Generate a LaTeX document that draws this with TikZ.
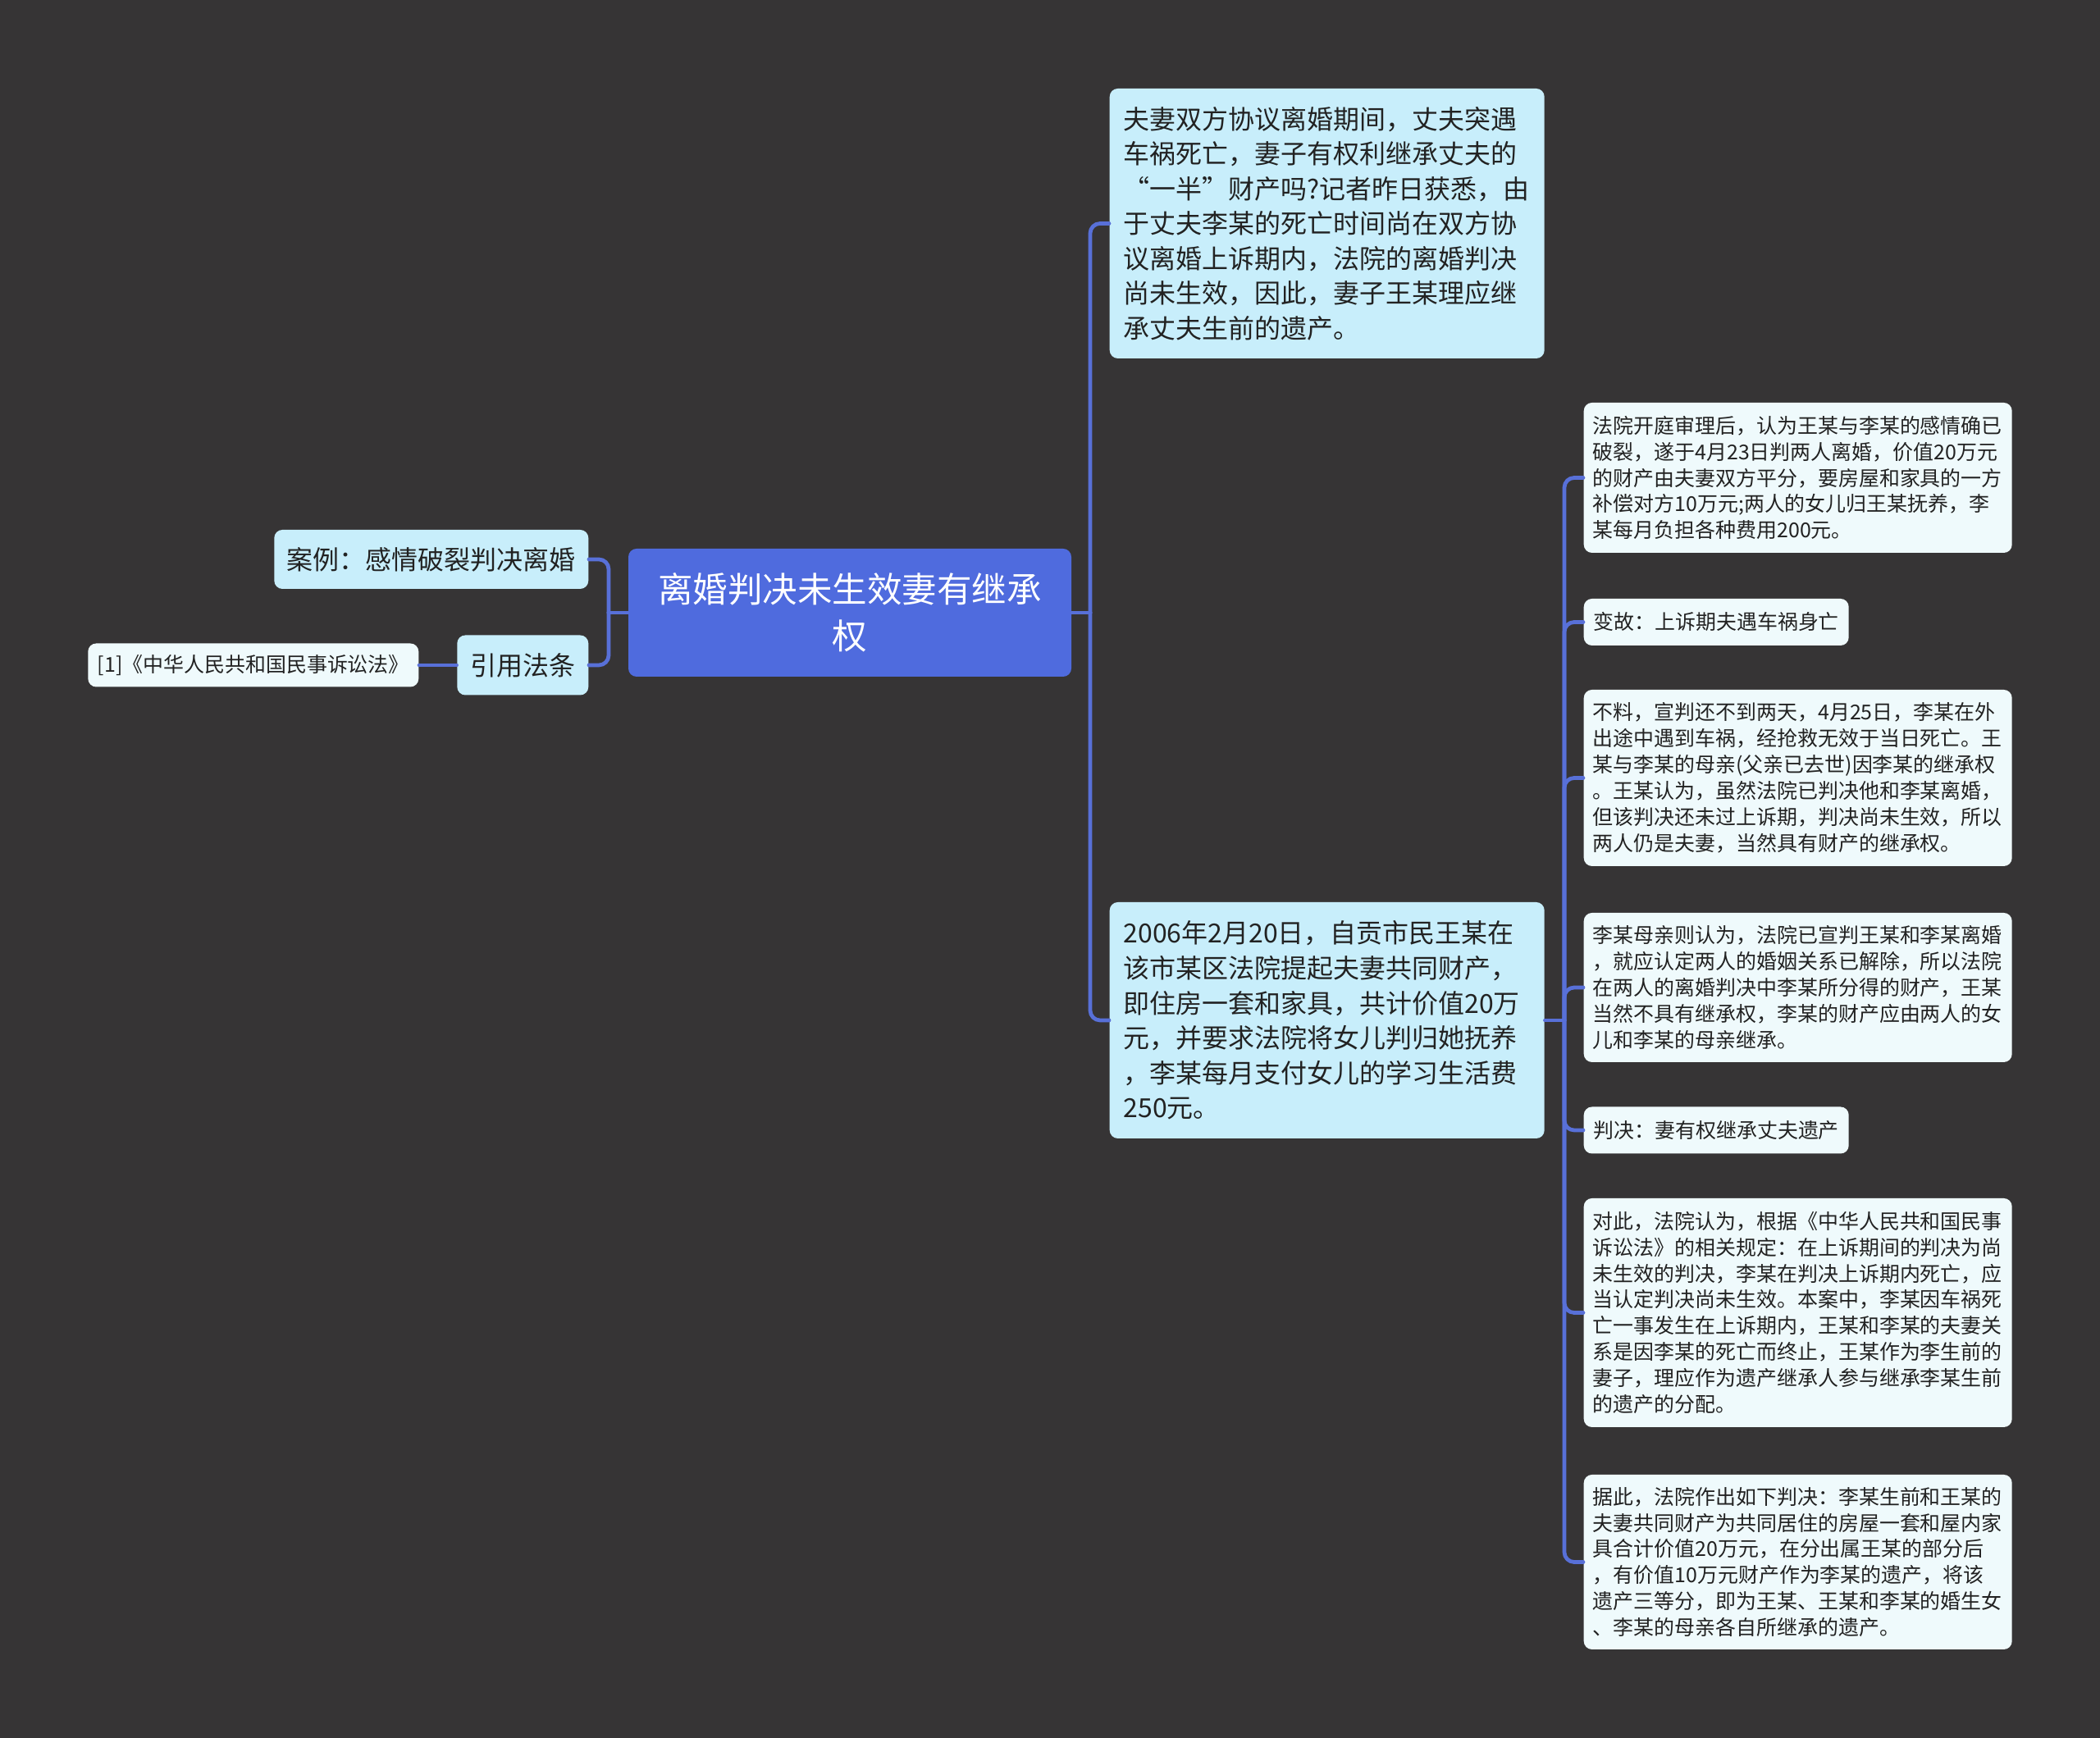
\documentclass[tikz,border=0pt]{standalone}
\usepackage{fontspec}
\setmainfont{Noto Sans CJK SC}
\definecolor{mapbg}{HTML}{363435}
\definecolor{mapblue}{HTML}{4F6BDE}
\definecolor{maplink}{HTML}{5870D8}
\definecolor{mapcyan}{HTML}{C8EEFB}
\definecolor{mappale}{HTML}{EFFAFC}
\definecolor{mapink}{HTML}{222222}

\begin{document}
\begin{tikzpicture}[line cap=round,line join=round,
  topic/.style={fill=mapblue,text=white,rounded corners=.1cm,align=center,
    minimum width=5.4cm,minimum height=1.56cm,inner sep=0pt,
    font=\fontsize{12.1}{16.2}\selectfont},
  branch/.style={fill=mapcyan,text=mapink,rounded corners=.1cm,inner sep=0pt,
    font=\fontsize{9.1}{12.1}\selectfont},
  note/.style={branch,align=left,text width=4.96cm,inner xsep=.17cm,inner ysep=0pt},
  leafbox/.style={fill=mappale,text=mapink,rounded corners=.1cm,inner sep=0pt,
    font=\fontsize{7.1}{9.1}\selectfont},
  detail/.style={leafbox,align=left,text width=5.0cm,inner xsep=.11cm,anchor=west},
  tag/.style={leafbox,minimum width=3.23cm,minimum height=.57cm,anchor=west},
  link/.style={draw=maplink,line width=1.35pt,rounded corners=.12cm}]
\path[use as bounding box] (0,0) rectangle (25.6,21.19);
\fill[mapbg] (0,0) rectangle (25.6,21.19);

% 中心主题与左侧分支
\node[topic] (root) at (10.36,13.72) {离婚判决未生效妻有继承\\权};
\node[branch,anchor=east,minimum width=3.83cm,minimum height=.72cm] (case) at (7.18,14.37) {案例：感情破裂判决离婚};
\node[branch,anchor=east,minimum width=1.60cm,minimum height=.73cm] (law) at (7.18,13.08) {引用法条};
\node[leafbox,anchor=east,minimum width=4.03cm,minimum height=.53cm] (lawref) at (5.11,13.08) {[1]《中华人民共和国民事诉讼法》};

% 右侧两个分支
\node[note,anchor=west,minimum height=3.29cm] (summary) at (13.52,18.465) {夫妻双方协议离婚期间，丈夫突遇\\车祸死亡，妻子有权利继承丈夫的\\“一半”财产吗?记者昨日获悉，由\\于丈夫李某的死亡时间尚在双方协\\议离婚上诉期内，法院的离婚判决\\尚未生效，因此，妻子王某理应继\\承丈夫生前的遗产。};
\node[note,anchor=west,minimum height=2.88cm] (story) at (13.52,8.75) {2006年2月20日，自贡市民王某在\\该市某区法院提起夫妻共同财产，\\即住房一套和家具，共计价值20万\\元，并要求法院将女儿判归她抚养\\，李某每月支付女儿的学习生活费\\250元。};

% 案情细节
\node[detail,minimum height=1.83cm] (trial) at (19.30,15.365) {法院开庭审理后，认为王某与李某的感情确已\\破裂，遂于4月23日判两人离婚，价值20万元\\的财产由夫妻双方平分，要房屋和家具的一方\\补偿对方10万元;两人的女儿归王某抚养，李\\某每月负担各种费用200元。};
\node[tag] (accident) at (19.30,13.605) {变故：上诉期夫遇车祸身亡};
\node[detail,minimum height=2.15cm] (wifeclaim) at (19.30,11.705) {不料，宣判还不到两天，4月25日，李某在外\\出途中遇到车祸，经抢救无效于当日死亡。王\\某与李某的母亲(父亲已去世)因李某的继承权\\。王某认为，虽然法院已判决他和李某离婚，\\但该判决还未过上诉期，判决尚未生效，所以\\两人仍是夫妻，当然具有财产的继承权。};
\node[detail,minimum height=1.82cm] (motherclaim) at (19.30,9.15) {李某母亲则认为，法院已宣判王某和李某离婚\\，就应认定两人的婚姻关系已解除，所以法院\\在两人的离婚判决中李某所分得的财产，王某\\当然不具有继承权，李某的财产应由两人的女\\儿和李某的母亲继承。};
\node[tag] (verdict) at (19.30,7.41) {判决：妻有权继承丈夫遗产};
\node[detail,minimum height=2.79cm] (reasoning) at (19.30,5.185) {对此，法院认为，根据《中华人民共和国民事\\诉讼法》的相关规定：在上诉期间的判决为尚\\未生效的判决，李某在判决上诉期内死亡，应\\当认定判决尚未生效。本案中，李某因车祸死\\亡一事发生在上诉期内，王某和李某的夫妻关\\系是因李某的死亡而终止，王某作为李生前的\\妻子，理应作为遗产继承人参与继承李某生前\\的遗产的分配。};
\node[detail,minimum height=2.13cm] (decision) at (19.30,2.145) {据此，法院作出如下判决：李某生前和王某的\\夫妻共同财产为共同居住的房屋一套和屋内家\\具合计价值20万元，在分出属王某的部分后\\，有价值10万元财产作为李某的遗产，将该\\遗产三等分，即为王某、王某和李某的婚生女\\、李某的母亲各自所继承的遗产。};

% 连线
\coordinate (lj) at (7.42,13.72);
\coordinate (rj) at (13.29,13.72);
\coordinate (sj) at (19.07,8.75);
\draw[link] (root.west) -- (lj);
\draw[link] (root.east) -- (rj);
\draw[link] (story.east) -- (sj);
\foreach \n in {case,law} \draw[link] (lj) |- (\n.east);
\foreach \n in {summary,story} \draw[link] (rj) |- (\n.west);
\foreach \n in {trial,accident,wifeclaim,motherclaim,verdict,reasoning,decision} \draw[link] (sj) |- (\n.west);
\draw[link] (law.west) -- (lawref.east);
\end{tikzpicture}
\end{document}
